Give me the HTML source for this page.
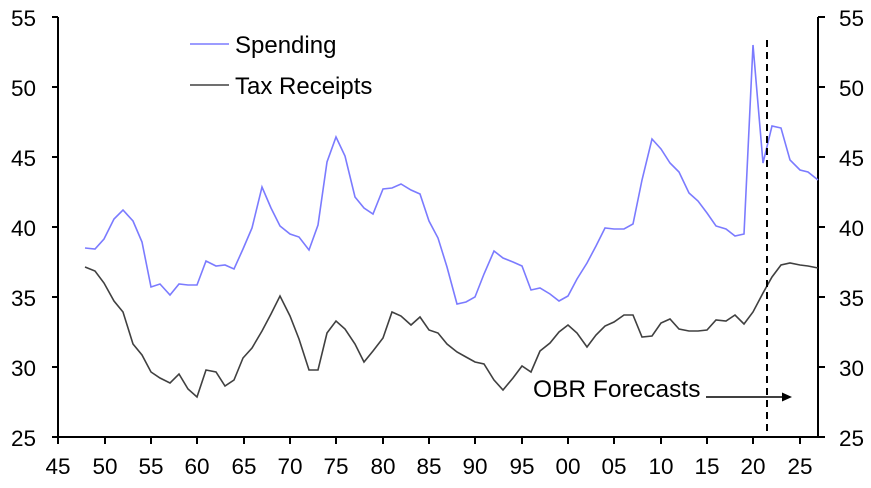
<!DOCTYPE html><html><head><style>body{margin:0;background:#fff}</style></head><body>
<svg width="871" height="483" xmlns="http://www.w3.org/2000/svg" font-family="Liberation Sans, sans-serif" font-size="22.5">
<g stroke="#000" stroke-width="2" fill="none">
<path d="M58,17V437H818V17"/>
<path d="M52,17H58M52,87H58M52,157H58M52,227H58M52,297H58M52,367H58M52,437H58"/>
<path d="M818,17H825M818,87H825M818,157H825M818,227H825M818,297H825M818,367H825M818,437H825"/>
<path d="M58,437v7M105,437v7M151,437v7M197,437v7M244,437v7M290,437v7M336,437v7M383,437v7M429,437v7M475,437v7M522,437v7M568,437v7M614,437v7M661,437v7M707,437v7M753,437v7M800,437v7"/>
</g>
<g text-anchor="end"><text x="36" y="26">55</text><text x="36" y="96">50</text><text x="36" y="166">45</text><text x="36" y="236">40</text><text x="36" y="306">35</text><text x="36" y="376">30</text><text x="36" y="446">25</text></g>
<g><text x="839" y="26">55</text><text x="839" y="96">50</text><text x="839" y="166">45</text><text x="839" y="236">40</text><text x="839" y="306">35</text><text x="839" y="376">30</text><text x="839" y="446">25</text></g>
<g text-anchor="middle"><text x="58" y="474">45</text><text x="105" y="474">50</text><text x="151" y="474">55</text><text x="197" y="474">60</text><text x="244" y="474">65</text><text x="290" y="474">70</text><text x="336" y="474">75</text><text x="383" y="474">80</text><text x="429" y="474">85</text><text x="475" y="474">90</text><text x="522" y="474">95</text><text x="568" y="474">00</text><text x="614" y="474">05</text><text x="661" y="474">10</text><text x="707" y="474">15</text><text x="753" y="474">20</text><text x="800" y="474">25</text></g>
<polyline fill="none" stroke="#7b7bff" stroke-width="1.6" points="85,248 95,249 104,239 114,219 123,210 133,221 142,242 151,287 160,284 170,295 179,284 188,285 197,285 206,261 216,266 225,265 234,269 243,249 252,228 262,187 271,208 280,226 290,234 299,237 309,250 318,225 327,162 336,137 345,156 355,197 364,208 373,214 383,189 392,188 401,184 411,190 420,194 429,221 438,238 447,267 457,304 466,302 475,297 484,274 494,251 503,258 513,262 522,266 531,290 540,288 550,294 559,301 568,296 577,279 587,263 596,246 605,228 614,229 624,229 633,224 642,180 652,139 661,149 670,163 679,172 689,193 698,201 707,213 716,226 726,229 735,236 744,234 753,45 763,163 772,126 781,128 790,160 800,170 808,172 818,180"/>
<polyline fill="none" stroke="#404040" stroke-width="1.6" points="85,267 95,271 104,283 114,301 123,312 133,344 142,355 151,372 160,378 170,383 179,374 188,389 197,397 206,370 216,372 225,386 234,380 243,358 252,348 262,331 271,314 280,296 290,316 299,339 309,370 318,370 327,333 336,321 345,329 355,344 364,362 373,351 383,338 392,312 401,316 411,325 420,317 429,330 438,333 447,344 457,352 466,357 475,362 484,364 494,380 503,390 513,378 522,366 531,372 540,351 550,343 559,332 568,325 577,333 587,347 596,335 605,326 614,322 624,315 633,315 642,337 652,336 661,323 670,319 679,329 689,331 698,331 707,330 716,320 726,321 735,315 744,324 753,312 763,293 772,277 781,265 790,263 800,265 808,266 818,268"/>
<line x1="767" y1="40" x2="767" y2="437" stroke="#000" stroke-width="2" stroke-dasharray="7,5"/>
<text x="533" y="397" font-size="24.5">OBR Forecasts</text>
<line x1="706" y1="397" x2="783" y2="397" stroke="#000" stroke-width="1.5"/>
<path d="M792,397L782,392.5V401.5Z" fill="#000"/>
<line x1="190" y1="44" x2="229" y2="44" stroke="#7b7bff" stroke-width="1.6"/>
<text x="235" y="53" font-size="24">Spending</text>
<line x1="190" y1="85" x2="229" y2="85" stroke="#404040" stroke-width="1.6"/>
<text x="235" y="94" font-size="24">Tax Receipts</text>
</svg></body></html>
